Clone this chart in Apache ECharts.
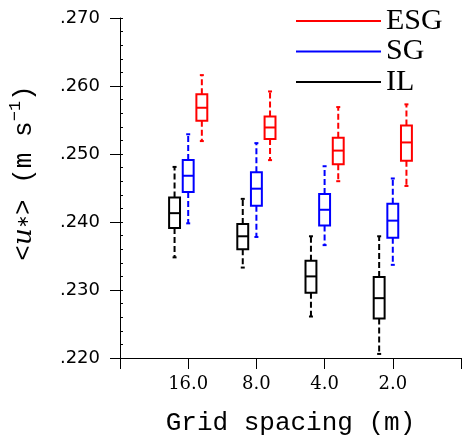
<!DOCTYPE html>
<html>
<head>
<meta charset="utf-8">
<script src="https://cdn.jsdelivr.net/npm/echarts@6/dist/echarts.min.js"></script>
<style>
html,body{margin:0;padding:0;background:#fff;}
#chart{width:462px;height:438px;}
</style>
</head>
<body>
<div id="chart"></div>
<script>
// Categories (grid spacing, m)
const categories = ['16.0', '8.0', '4.0', '2.0'];
// Box stats per category: [min, q1, median, q3, max]
const ilValues = [
  [0.2348, 0.2391, 0.2413, 0.2436, 0.2481],
  [0.2333, 0.2360, 0.2379, 0.2397, 0.2434],
  [0.2261, 0.2296, 0.2320, 0.2343, 0.2379],
  [0.2206, 0.2258, 0.2288, 0.2319, 0.2379]
];
const sgValues = [
  [0.2398, 0.2444, 0.2468, 0.2491, 0.2529],
  [0.2378, 0.2424, 0.2449, 0.2473, 0.2516],
  [0.2366, 0.2395, 0.2418, 0.2441, 0.2482],
  [0.2337, 0.2377, 0.2402, 0.2427, 0.2464]
];
const esgValues = [
  [0.2519, 0.2549, 0.2568, 0.2588, 0.2616],
  [0.2491, 0.2522, 0.2539, 0.2555, 0.2592],
  [0.2460, 0.2485, 0.2505, 0.2524, 0.2569],
  [0.2453, 0.2490, 0.2517, 0.2542, 0.2573]
];
const yMin = 0.22, yMax = 0.27, yStep = 0.01;

const chart = echarts.init(document.getElementById('chart'), null, {renderer: 'canvas'});

function build(values, offset) {
  return values.map((v, i) => [i + 1 + offset].concat(v));
}

function renderBox(params, api) {
  const x = api.value(0);
  const pMin = api.coord([x, api.value(1)]);
  const pQ1 = api.coord([x, api.value(2)]);
  const pMed = api.coord([x, api.value(3)]);
  const pQ3 = api.coord([x, api.value(4)]);
  const pMax = api.coord([x, api.value(5)]);
  const cx = pMed[0];
  const hw = api.size([0.16, 0])[0] / 2;
  const color = api.visual('color');
  const solid = {stroke: color, lineWidth: 2, fill: 'none'};
  const dashed = {stroke: color, lineWidth: 2, lineDash: [6, 3], fill: 'none'};
  return {
    type: 'group',
    children: [
      {type: 'line', shape: {x1: cx, y1: pQ3[1], x2: cx, y2: pMax[1]}, style: dashed},
      {type: 'line', shape: {x1: cx, y1: pQ1[1], x2: cx, y2: pMin[1]}, style: dashed},
      {type: 'line', shape: {x1: cx - 2, y1: pMax[1], x2: cx + 2, y2: pMax[1]}, style: solid},
      {type: 'line', shape: {x1: cx - 2, y1: pMin[1], x2: cx + 2, y2: pMin[1]}, style: solid},
      {type: 'rect', shape: {x: cx - hw, y: pQ3[1], width: 2 * hw, height: pQ1[1] - pQ3[1]}, style: solid},
      {type: 'line', shape: {x1: cx - hw, y1: pMed[1], x2: cx + hw, y2: pMed[1]}, style: solid}
    ]
  };
}

function boxSeries(name, values, offset, color) {
  return {
    name: name,
    type: 'custom',
    renderItem: renderBox,
    itemStyle: {color: color},
    encode: {x: 0, y: [1, 2, 3, 4, 5]},
    data: build(values, offset)
  };
}

const option = {
  animation: false,
  backgroundColor: '#fff',
  grid: {left: 120, right: 1, top: 18, bottom: 80, containLabel: false, outerBoundsMode: 'none'},
  legend: {
    orient: 'vertical',
    left: 291,
    top: 1,
    padding: 5,
    itemWidth: 85,
    itemHeight: 2,
    itemGap: 0.5,
    icon: 'rect',
    selectedMode: false,
    textStyle: {fontFamily: 'Liberation Serif', fontSize: 30, color: '#000', lineHeight: 30},
    data: [
      {name: 'ESG', itemStyle: {color: '#ff0000'}},
      {name: 'SG', itemStyle: {color: '#0000ff'}},
      {name: 'IL', itemStyle: {color: '#000000'}}
    ]
  },
  xAxis: {
    type: 'value',
    min: 0,
    max: 5,
    interval: 1,
    splitLine: {show: false},
    axisLine: {show: true, lineStyle: {color: '#000', width: 1}},
    axisTick: {show: true, length: 11, lineStyle: {color: '#000', width: 1}},
    axisLabel: {
      formatter: v => categories[v - 1] || '',
      fontFamily: 'DejaVu Serif',
      fontSize: 18,
      color: '#000',
      margin: 17,
      showMinLabel: true,
      showMaxLabel: true
    },
    name: 'Grid spacing (m)',
    nameLocation: 'middle',
    nameGap: 52,
    nameTextStyle: {fontFamily: 'Liberation Mono', fontSize: 26, color: '#000'}
  },
  yAxis: [
    {
      type: 'value',
      min: yMin,
      max: yMax,
      interval: yStep,
      position: 'left',
      splitLine: {show: false},
      axisLine: {show: true, lineStyle: {color: '#000', width: 1}},
      axisTick: {show: true, length: 10, lineStyle: {color: '#000', width: 1}},
      axisLabel: {
        formatter: v => v.toFixed(3).replace(/^0/, ''),
        fontFamily: 'DejaVu Sans',
        fontSize: 18,
        color: '#000',
        margin: 20
      }
    },
    {
      type: 'value',
      min: yMin,
      max: yMax,
      interval: 0.002,
      position: 'left',
      offset: 0,
      splitLine: {show: false},
      axisLine: {show: false},
      axisTick: {show: true, inside: true, length: 3, interval: (idx) => idx % 5 !== 0, lineStyle: {color: '#000', width: 1}},
      axisLabel: {show: false}
    }
  ],
  graphic: [
    {
      type: 'text',
      x: 24,
      y: 173,
      rotation: Math.PI / 2,
      style: {
        text: '<{u|u}{sub|∗}> (m s{sup|−1})',
        fontFamily: 'Liberation Mono',
        fontSize: 26,
        fill: '#000',
        align: 'center',
        verticalAlign: 'middle',
        rich: {
          u: {fontFamily: 'DejaVu Serif', fontStyle: 'italic', fontSize: 26},
          sub: {fontFamily: 'DejaVu Sans', fontSize: 16},
          sup: {fontFamily: 'Liberation Mono', fontSize: 17, verticalAlign: 'top', lineHeight: 34}
        }
      }
    }
  ],
  series: [
    boxSeries('IL', ilValues, -0.2, '#000000'),
    boxSeries('SG', sgValues, 0, '#0000ff'),
    boxSeries('ESG', esgValues, 0.2, '#ff0000')
  ]
};
chart.setOption(option);
</script>
</body>
</html>
